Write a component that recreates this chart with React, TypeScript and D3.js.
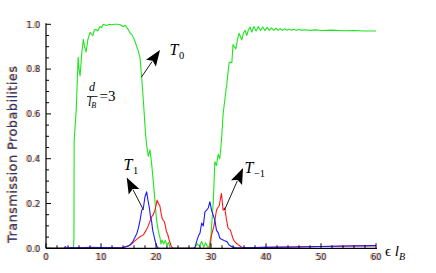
import React, { useEffect, useRef } from 'react';
import * as d3 from 'd3';

// T0 (green)
const t0Points: [number, number][] = [
  [0, 0], [5.0, 0], [5.08, 0.05], [5.12, 0.48], [5.5, 0.62], [5.85, 0.853], [6.0, 0.8], [6.2, 0.77],
  [6.5, 0.87], [6.8, 0.933], [7.0, 0.9], [7.3, 0.877], [7.6, 0.93], [8.0, 0.964], [8.3, 0.955],
  [8.5, 0.95], [8.8, 0.975], [9.1, 0.977], [9.4, 0.97], [9.8, 0.99], [10.1, 0.985], [10.4, 1.0],
  [11, 0.995], [11.5, 1.0], [12, 0.998], [12.5, 1.0], [13, 1.0], [13.5, 0.998], [14.0, 0.99],
  [14.4, 0.995], [14.7, 0.985], [15.0, 0.975], [15.3, 0.96], [15.6, 0.955], [15.8, 0.945],
  [16.1, 0.93], [16.5, 0.9], [16.8, 0.88], [17.1, 0.85], [17.4, 0.76], [17.7, 0.66], [18.1, 0.51],
  [18.3, 0.46], [18.6, 0.41], [18.9, 0.44], [19.2, 0.38], [19.5, 0.3], [19.8, 0.215], [20.1, 0.126],
  [20.4, 0.08], [20.7, 0.05], [20.9, 0.02], [21.1, 0.037], [21.4, 0.02], [21.7, 0.035], [22.0, 0.015],
  [22.3, 0.025], [22.6, 0], [27.0, 0], [27.5, 0.02], [27.9, 0.01], [28.3, 0.03], [28.7, 0.005],
  [29.0, 0.025], [29.4, 0.005], [29.7, 0.01], [30.0, 0.06], [30.4, 0.2], [30.5, 0.26], [30.7, 0.386],
  [31.0, 0.37], [31.3, 0.42], [31.6, 0.4], [31.9, 0.48], [32.2, 0.6], [32.5, 0.66], [32.9, 0.74],
  [33.3, 0.83], [33.8, 0.83], [34.0, 0.91], [34.5, 0.89], [34.8, 0.93], [35.1, 0.96], [35.6, 0.93],
  [35.9, 0.96], [36.2, 0.973], [36.5, 0.95], [36.8, 0.975], [37.1, 0.988], [37.4, 0.965],
  [37.8, 0.99], [38.2, 0.97], [38.6, 0.99], [39.0, 0.972], [39.4, 0.988], [39.8, 0.972],
  [40.2, 0.986], [40.6, 0.973], [41.0, 0.984], [41.4, 0.973], [41.8, 0.983], [42.2, 0.973],
  [42.6, 0.981], [43.0, 0.973], [43.4, 0.98], [43.8, 0.973], [44.2, 0.979], [44.6, 0.973],
  [45.0, 0.978], [45.5, 0.973], [46, 0.977], [46.5, 0.973], [47, 0.976], [48, 0.973], [49, 0.975],
  [50, 0.972], [52, 0.974], [54, 0.971], [56, 0.972], [58, 0.97], [60, 0.97],
];

// T1 / T-1 (blue)
const bluePoints: [number, number][] = [
  [0, 0], [3.3, 0], [3.5, 0.008], [3.8, 0], [4.5, 0.003], [6, 0.002], [10, 0.003], [13, 0.002],
  [14, 0.003], [14.6, 0.008], [15.3, 0.015], [15.8, 0.03], [16.2, 0.05], [16.5, 0.065], [16.8, 0.09],
  [17.1, 0.125], [17.4, 0.17], [17.7, 0.18], [18.0, 0.23], [18.3, 0.252], [18.5, 0.22], [18.8, 0.18],
  [19.0, 0.14], [19.2, 0.12], [19.4, 0.08], [19.6, 0.06], [19.8, 0.037], [20.0, 0.02], [20.2, 0.007],
  [20.5, 0], [26.8, 0], [27.1, 0.005], [27.5, 0.04], [27.8, 0.06], [28.0, 0.068], [28.3, 0.113],
  [28.6, 0.1], [28.9, 0.163], [29.2, 0.17], [29.5, 0.18], [29.8, 0.208], [30.1, 0.17], [30.4, 0.148],
  [30.7, 0.126], [31.0, 0.08], [31.3, 0.07], [31.6, 0.046], [31.9, 0.04], [32.2, 0.037], [32.6, 0.032],
  [32.9, 0.03], [33.3, 0.015], [33.8, 0.007], [34.5, 0.002], [36, 0.002], [40, 0.004], [45, 0.006],
  [50, 0.008], [55, 0.01], [60, 0.012],
];

// red
const redPoints: [number, number][] = [
  [0, 0], [5, 0.001], [8, 0.004], [10, 0.003], [13, 0.002], [14.0, 0.003], [15, 0.01], [15.8, 0.025],
  [16.5, 0.04], [17.0, 0.05], [17.7, 0.06], [18.2, 0.08], [18.6, 0.1], [18.9, 0.12], [19.2, 0.14],
  [19.5, 0.15], [19.8, 0.17], [20.0, 0.19], [20.2, 0.215], [20.45, 0.2], [20.7, 0.19], [20.9, 0.16],
  [21.1, 0.135], [21.3, 0.125], [21.5, 0.12], [21.7, 0.1], [21.9, 0.074], [22.1, 0.065], [22.4, 0.037],
  [22.8, 0.007], [23.1, 0], [29.6, 0], [29.8, 0.005], [30.1, 0.06], [30.5, 0.096], [30.8, 0.14],
  [31.0, 0.17], [31.2, 0.18], [31.5, 0.19], [31.7, 0.22], [31.9, 0.245], [32.2, 0.17], [32.5, 0.18],
  [32.8, 0.13], [33.1, 0.09], [33.5, 0.082], [33.8, 0.06], [34.1, 0.037], [34.5, 0.025], [35.0, 0.015],
  [35.6, 0.005], [36, 0.002], [40, 0.004], [45, 0.006], [50, 0.008], [55, 0.01], [60, 0.012],
];

const xTicks = [0, 10, 20, 30, 40, 50, 60];
const yTicks = [0, 0.2, 0.4, 0.6, 0.8, 1.0];

const App = () => {
  const svgRef = useRef<SVGSVGElement>(null);

  useEffect(() => {
    const svg = d3.select(svgRef.current);
    svg.selectAll('*').remove();

    const x = d3.scaleLinear().domain([0, 60]).range([46, 376]);
    const y = d3.scaleLinear().domain([0, 1]).range([248.3, 24.3]);

    const line = d3.line<[number, number]>().x(d => x(d[0])).y(d => y(d[1]));

    // curves
    const series: [[number, number][], string][] = [
      [t0Points, '#1ee61e'],
      [redPoints, '#ff1a1a'],
      [bluePoints, '#1a1aff'],
    ];
    series.forEach(([pts, col]) => {
      svg.append('path')
        .attr('d', line(pts))
        .attr('fill', 'none')
        .attr('stroke', col)
        .attr('stroke-width', 1.1)
        .attr('stroke-linejoin', 'round');
    });

    // axes (ticks drawn inward)
    const ax = svg.append('g').attr('stroke', '#000').attr('fill', 'none');
    ax.append('line').attr('x1', 46).attr('x2', 46).attr('y1', y(1) - 1).attr('y2', y(0)).attr('stroke-width', 1.2);
    ax.append('line').attr('x1', 46).attr('x2', x(60) + 1).attr('y1', y(0)).attr('y2', y(0)).attr('stroke-width', 1.2);

    d3.range(0, 1.0001, 0.05).forEach(v => {
      const major = Math.abs(v * 5 - Math.round(v * 5)) < 1e-6;
      ax.append('line').attr('x1', 46).attr('x2', 46 + (major ? 5 : 3))
        .attr('y1', y(v)).attr('y2', y(v)).attr('stroke-width', 1);
    });
    d3.range(0, 60.001, 2).forEach(v => {
      const major = v % 10 === 0;
      ax.append('line').attr('x1', x(v)).attr('x2', x(v))
        .attr('y1', y(0)).attr('y2', y(0) - (major ? 5 : 3)).attr('stroke-width', 1);
    });

    // tick labels with the colour fringe
    const fringeText = (g, tx, ty, txt, anchor, size) => {
      g.append('text').attr('x', tx - 0.9).attr('y', ty).attr('text-anchor', anchor)
        .attr('font-family', 'DejaVu Sans, sans-serif').attr('font-size', size)
        .attr('fill', '#e8902e').text(txt);
      g.append('text').attr('x', tx + 0.3).attr('y', ty).attr('text-anchor', anchor)
        .attr('font-family', 'DejaVu Sans, sans-serif').attr('font-size', size)
        .attr('fill', '#1c2f6e').text(txt);
    };
    const lab = svg.append('g');
    yTicks.forEach(v => fringeText(lab, 40, y(v) + 3.3, v.toFixed(1), 'end', 8.5));
    xTicks.forEach(v => fringeText(lab, x(v), 259.5, String(v), 'middle', 8.5));

    // y axis title
    const title = svg.append('g').attr('transform', 'translate(16.5,154.5) rotate(-90)');
    title.append('text').attr('x', 0).attr('y', -1).attr('text-anchor', 'middle')
      .attr('font-family', 'DejaVu Sans, sans-serif').attr('font-size', 13)
      .attr('textLength', 177).attr('lengthAdjust', 'spacing')
      .attr('fill', '#e8902e').text('Transmission Probabilities');
    title.append('text').attr('x', 0).attr('y', 0.3).attr('text-anchor', 'middle')
      .attr('font-family', 'DejaVu Sans, sans-serif').attr('font-size', 13)
      .attr('textLength', 177).attr('lengthAdjust', 'spacing')
      .attr('fill', '#22367a').text('Transmission Probabilities');

    // arrows
    const arrow = (x0, y0, x1, y1) => {
      const dx = x1 - x0, dy = y1 - y0;
      const len = Math.hypot(dx, dy);
      const ux = dx / len, uy = dy / len;
      const hl = 16, hw = 6;
      const bx = x1 - ux * hl, by = y1 - uy * hl;
      svg.append('line').attr('x1', x0).attr('y1', y0).attr('x2', bx + ux * 2).attr('y2', by + uy * 2)
        .attr('stroke', '#000').attr('stroke-width', 0.9);
      svg.append('path')
        .attr('d', `M${x1},${y1}L${bx - uy * hw},${by + ux * hw}L${bx + ux * 3},${by + uy * 3}L${bx + uy * hw},${by - ux * hw}Z`)
        .attr('fill', '#000');
    };
    arrow(141.5, 77, 160, 50);
    arrow(143.5, 210, 126.7, 177.5);
    arrow(224.5, 210, 243, 168);

    const serif = 'Liberation Serif, Times New Roman, serif';
    const tLabel = (tx, ty, sub) => {
      const t = svg.append('text').attr('x', tx).attr('y', ty)
        .attr('font-family', serif).attr('font-size', 16).attr('fill', '#000');
      t.append('tspan').attr('font-style', 'italic').text('T');
      t.append('tspan').attr('font-size', 10.5).attr('dy', 3.5).attr('dx', 0.5).text(sub);
    };
    tLabel(169.5, 55, '0');
    tLabel(123.5, 170, '1');
    tLabel(244.5, 173, '\u22121');

    // d / l_B = 3
    svg.append('text').attr('x', 92).attr('y', 91).attr('text-anchor', 'middle')
      .attr('font-family', serif).attr('font-size', 12).attr('font-style', 'italic').text('d');
    svg.append('line').attr('x1', 87).attr('x2', 97.5).attr('y1', 96.5).attr('y2', 96.5)
      .attr('stroke', '#000').attr('stroke-width', 0.8);
    const lb = svg.append('text').attr('x', 88).attr('y', 106)
      .attr('font-family', serif).attr('font-size', 12).attr('font-style', 'italic');
    lb.append('tspan').text('l');
    lb.append('tspan').attr('font-size', 8).attr('dy', 1.5).text('B');
    svg.append('text').attr('x', 99.5).attr('y', 100.5)
      .attr('font-family', serif).attr('font-size', 15).text('=3');

    // x axis label
    const xl = svg.append('text').attr('x', 385).attr('y', 256)
      .attr('font-family', serif).attr('font-size', 15);
    xl.append('tspan').text('\u03f5 ');
    xl.append('tspan').attr('font-style', 'italic').text('l');
    xl.append('tspan').attr('font-style', 'italic').attr('font-size', 10).attr('dy', 3.5).text('B');
  }, []);

  return (
    <svg ref={svgRef} width={436} height={273}
      style={{ position: 'absolute', left: 0, top: 0, background: '#fff' }} />
  );
};

export default App;
